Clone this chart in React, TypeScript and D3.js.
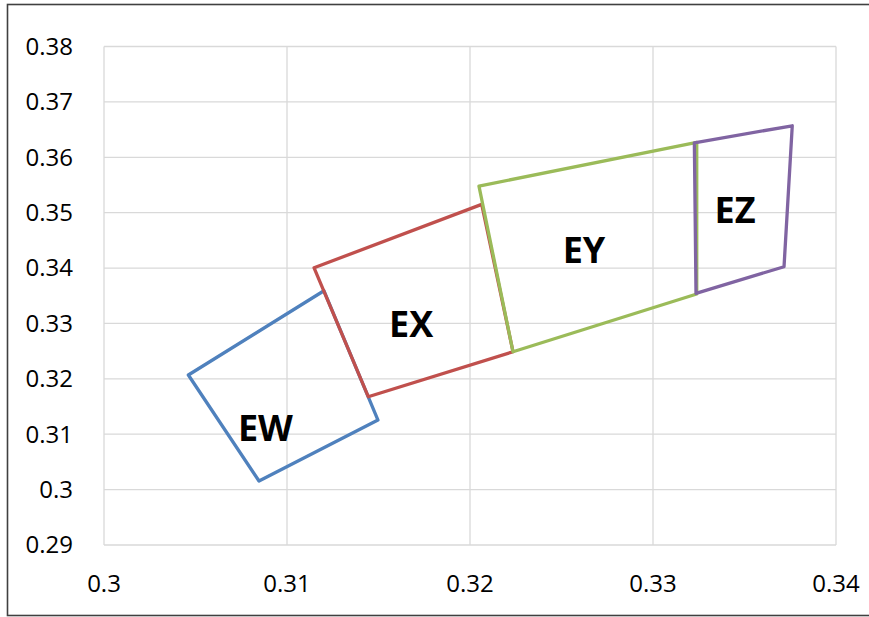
import { useEffect, useRef } from "react"
import * as d3 from "d3"

// polygon outlines, closed back to the first vertex when drawn
const names = ["EW", "EX", "EY", "EZ"]
const colors = ["#4F81BD", "#C0504D", "#9BBB59", "#8064A2"]

const ewX = [0.30461, 0.30847, 0.31497, 0.31202]
const ewY = [0.32069, 0.30155, 0.31256, 0.3359]
const exX = [0.31148, 0.32064, 0.32235, 0.31444]
const exY = [0.34005, 0.3515, 0.32489, 0.31677]
const eyX = [0.32049, 0.33239, 0.33239, 0.32235]
const eyY = [0.3548, 0.36269, 0.33531, 0.32489]
const ezX = [0.33226, 0.33761, 0.33716, 0.33235]
const ezY = [0.36262, 0.36569, 0.34024, 0.33543]

// label anchor positions (data coords)
const labelX = [0.30882, 0.31678, 0.32623, 0.33448]
const labelY = [0.31113, 0.32989, 0.34325, 0.35047]

const xTicks = [0.3, 0.31, 0.32, 0.33, 0.34]
const yTicks = [0.29, 0.3, 0.31, 0.32, 0.33, 0.34, 0.35, 0.36, 0.37, 0.38]

export default function App() {
  const svgRef = useRef<SVGSVGElement>(null)

  useEffect(() => {
    if (!svgRef.current) return
    const width = 869
    const height = 617
    const margin = { top: 46.5, right: 33, bottom: 72, left: 104 }

    const svg = d3.select(svgRef.current)
    svg.selectAll("*").remove()

    const x = d3.scaleLinear().domain([0.3, 0.34]).range([margin.left, width - margin.right])
    const y = d3.scaleLinear().domain([0.29, 0.38]).range([height - margin.bottom, margin.top])

    svg.append("rect").attr("width", width).attr("height", height).attr("fill", "#fff")

    // outer chart border (runs off the right edge)
    svg
      .append("rect")
      .attr("x", 7.5)
      .attr("y", 4.5)
      .attr("width", 870)
      .attr("height", 611)
      .attr("fill", "none")
      .attr("stroke", "#404040")
      .attr("stroke-width", 1.6)

    // grid lines
    const grid = svg.append("g").attr("stroke", "#d9d9d9").attr("stroke-width", 1.3)
    grid
      .selectAll(".vx")
      .data(xTicks)
      .enter()
      .append("line")
      .attr("x1", (d) => x(d))
      .attr("x2", (d) => x(d))
      .attr("y1", y(0.29))
      .attr("y2", y(0.38))
    grid
      .selectAll(".hy")
      .data(yTicks)
      .enter()
      .append("line")
      .attr("x1", x(0.3))
      .attr("x2", x(0.34))
      .attr("y1", (d) => y(d))
      .attr("y2", (d) => y(d))

    const font = "'Open Sans', sans-serif"

    // tick labels
    svg
      .append("g")
      .selectAll("text")
      .data(yTicks)
      .enter()
      .append("text")
      .attr("x", 73)
      .attr("y", (d) => y(d))
      .attr("dy", "0.35em")
      .attr("text-anchor", "end")
      .attr("font-family", font)
      .attr("font-size", 24)
      .attr("fill", "#000")
      .text((d) => d3.format("")(+d.toFixed(2)))

    svg
      .append("g")
      .selectAll("text")
      .data(xTicks)
      .enter()
      .append("text")
      .attr("x", (d) => x(d))
      .attr("y", 592)
      .attr("text-anchor", "middle")
      .attr("font-family", font)
      .attr("font-size", 24)
      .attr("fill", "#000")
      .text((d) => d3.format("")(+d.toFixed(2)))

    // polygons
    const xs = [ewX, exX, eyX, ezX]
    const ys = [ewY, exY, eyY, ezY]
    const line = d3
      .line<[number, number]>()
      .x((d) => x(d[0]))
      .y((d) => y(d[1]))
      .curve(d3.curveLinearClosed)

    names.forEach((name, i) => {
      const pts = xs[i].map((v, j) => [v, ys[i][j]] as [number, number])
      svg
        .append("path")
        .attr("class", `poly-${name}`)
        .attr("d", line(pts))
        .attr("fill", "none")
        .attr("stroke", colors[i])
        .attr("stroke-width", 3.3)
        .attr("stroke-linejoin", "round")
    })

    // labels
    svg
      .append("g")
      .selectAll("text")
      .data(names)
      .enter()
      .append("text")
      .attr("x", (_, i) => x(labelX[i]))
      .attr("y", (_, i) => y(labelY[i]))
      .attr("dy", "0.36em")
      .attr("text-anchor", "middle")
      .attr("font-family", font)
      .attr("font-weight", 700)
      .attr("font-size", 36)
      .attr("fill", "#000")
      .text((d) => d)
  }, [])

  return <svg ref={svgRef} width={869} height={617} style={{ position: "absolute", left: 0, top: 0 }} />
}
